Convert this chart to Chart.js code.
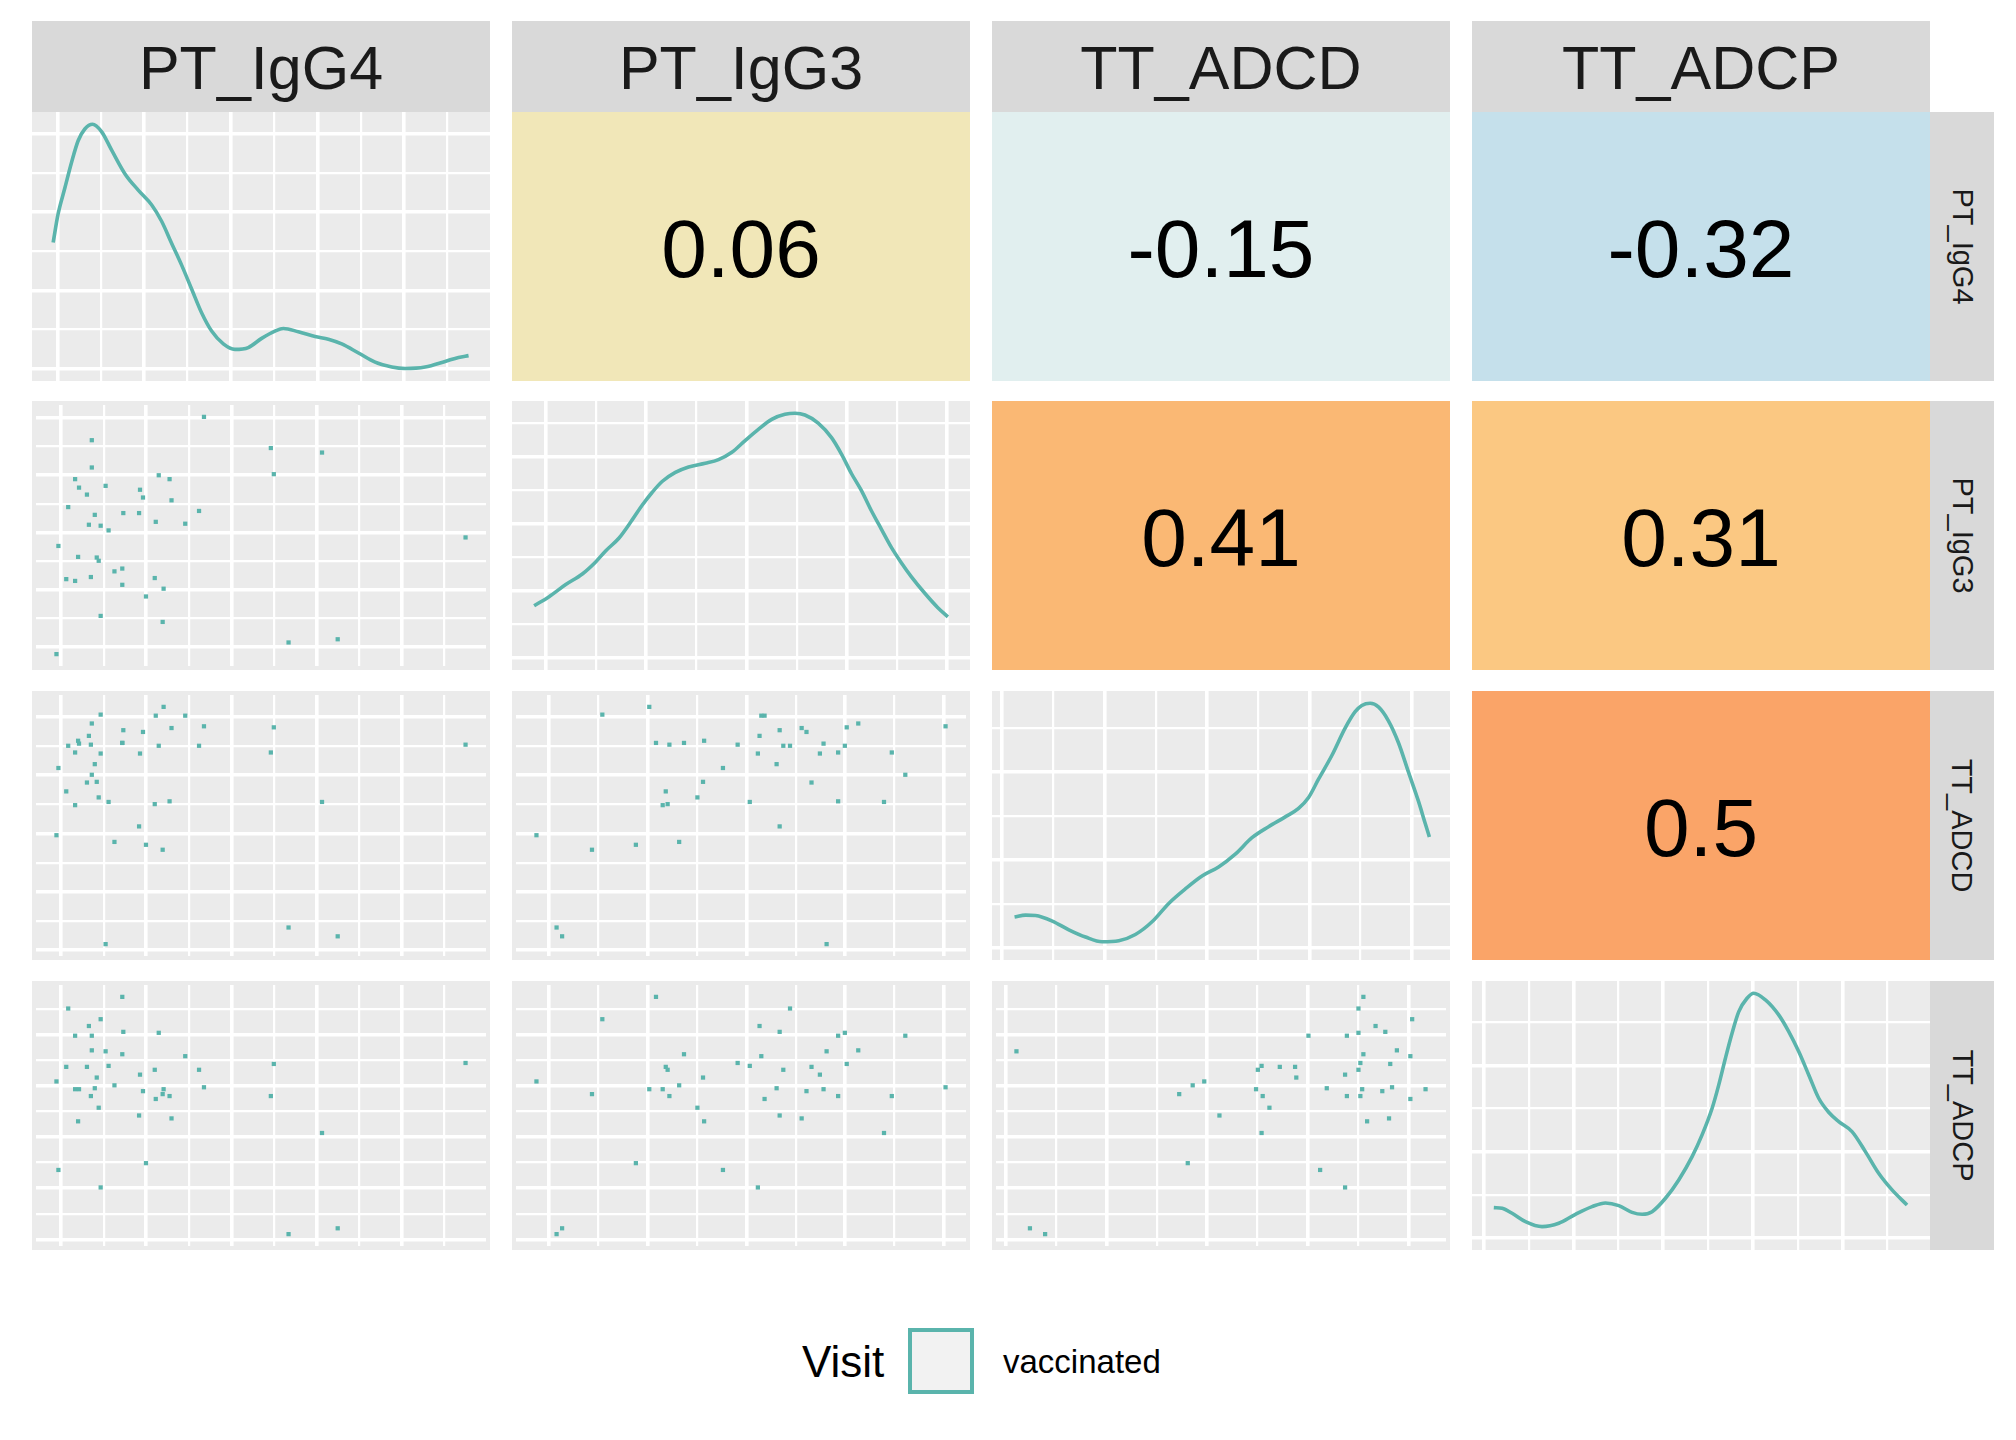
<!DOCTYPE html>
<html>
<head>
<meta charset="utf-8">
<script src="https://cdn.jsdelivr.net/npm/chart.js@4.4.0/dist/chart.umd.min.js"></script>
<style>
  body { margin: 0; background: #fff; width: 2016px; height: 1440px; position: relative; overflow: hidden;
         font-family: 'Liberation Sans', Arial, sans-serif; }
  .abs { position: absolute; }
  .strip-top { background: #D9D9D9; color: #1A1A1A; font-size: 61px; display: flex; align-items: center;
               justify-content: center; padding-top: 3px; box-sizing: border-box; }
  .strip-right { background: #D9D9D9; color: #1A1A1A; font-size: 29px; display: flex; align-items: center;
                 justify-content: center; }
  .strip-right span { display: inline-block; transform: rotate(90deg); white-space: nowrap; }
  .corr { display: flex; align-items: center; justify-content: center; font-size: 82px; color: #000;
          padding-top: 5px; box-sizing: border-box; }
  canvas { background: #EBEBEB; }
</style>
</head>
<body>
<script>
var varNames = ['PT_IgG4', 'PT_IgG3', 'TT_ADCD', 'TT_ADCP'];

// one value per sample, same order in every array
var PT_IgG4 = [-0.054, -0.031, 0.061, 0.084, 0.165, 0.165, 0.200, 0.211, 0.304, 0.327, 0.350, 0.361, 0.361, 0.396, 0.419,
               0.442, 0.465, 0.465, 0.523, 0.558, 0.627, 0.719, 0.719, 0.731, 0.916, 0.927, 0.962, 0.997, 1.100, 1.112,
               1.147, 1.193, 1.204, 1.274, 1.297, 1.458, 1.620, 1.678, 2.463, 2.498, 2.671, 3.064, 3.248, 4.749];
var PT_IgG3 = [-0.129, 1.762, 1.182, 2.442, 2.930, 1.151, 1.571, 2.782, 2.660, 2.133, 1.219, 3.611, 3.134, 2.306, 1.560,
               1.503, 2.116, 0.539, 2.813, 2.034, 1.318, 1.367, 1.083, 2.337, 2.337, 2.745, 2.609, 0.879, 1.201, 2.184,
               2.998, 0.434, 1.015, 2.930, 2.560, 2.151, 2.374, 4.019, 3.474, 3.017, 0.075, 3.395, 0.131, 1.911];
var TT_ADCD = [1.970, 3.122, 2.721, 3.503, 3.388, 2.485, 3.589, 3.540, 2.873, 3.673, 3.522, 3.006, 3.885, 3.188, 2.885,
               2.618, 3.370, 4.037, 0.103, 2.540, 1.855, 3.552, 3.552, 3.770, 2.121, 3.370, 3.740, 1.806, 2.503, 4.019,
               3.503, 1.721, 4.170, 2.551, 3.807, 4.019, 3.503, 3.837, 3.388, 3.819, 0.388, 2.540, 0.237, 3.522];
var TT_ADCP = [3.087, 1.356, 3.372, 4.513, 3.981, 2.935, 2.307, 2.935, 3.372, 4.171, 2.801, 3.981, 3.695, 2.954, 3.163,
               2.573, 1.014, 4.304, 3.676, 3.391, 3.011, 3.619, 4.741, 4.057, 2.421, 3.220, 2.897, 1.489, 3.315, 2.744,
               4.038, 2.839, 2.935, 2.801, 2.364, 3.581, 3.315, 2.973, 2.801, 3.429, 0.101, 2.079, 0.215, 3.448];

// density curves on the diagonal
var densIgG4X = [-0.050, 0.007, 0.084, 0.161, 0.238, 0.315, 0.404, 0.508, 0.623, 0.777, 0.931, 1.085, 1.201, 1.316,
                 1.432, 1.547, 1.662, 1.778, 1.913, 2.047, 2.201, 2.355, 2.509, 2.605, 2.779, 2.971, 3.125, 3.279,
                 3.472, 3.664, 3.856, 4.010, 4.241, 4.472, 4.626, 4.742];
var densIgG4Y = [1.612, 1.976, 2.303, 2.630, 2.910, 3.060, 3.121, 3.027, 2.794, 2.490, 2.280, 2.093, 1.883, 1.603,
                 1.323, 1.018, 0.715, 0.481, 0.317, 0.247, 0.271, 0.388, 0.481, 0.514, 0.472, 0.411, 0.378, 0.317,
                 0.201, 0.084, 0.023, 0.004, 0.023, 0.094, 0.145, 0.168];
var densIgG3X = [-0.116, 0.033, 0.199, 0.364, 0.497, 0.596, 0.728, 0.861, 0.960, 1.059, 1.159, 1.291, 1.423, 1.589,
                 1.721, 1.854, 1.986, 2.118, 2.251, 2.383, 2.483, 2.582, 2.714, 2.847, 2.946, 3.045, 3.145, 3.244,
                 3.343, 3.443, 3.542, 3.641, 3.774, 3.906, 4.006];
var densIgG3Y = [0.776, 0.913, 1.093, 1.251, 1.431, 1.595, 1.785, 2.059, 2.277, 2.468, 2.632, 2.768, 2.850, 2.904,
                 2.959, 3.068, 3.243, 3.411, 3.560, 3.635, 3.652, 3.625, 3.504, 3.287, 3.041, 2.752, 2.495, 2.195,
                 1.922, 1.649, 1.420, 1.212, 0.967, 0.748, 0.612];
var densADCDX = [0.120, 0.227, 0.325, 0.488, 0.650, 0.813, 0.975, 1.138, 1.300, 1.463, 1.626, 1.788, 1.951, 2.113,
                 2.276, 2.439, 2.601, 2.764, 2.894, 2.992, 3.089, 3.219, 3.349, 3.447, 3.512, 3.593, 3.674, 3.772,
                 3.870, 3.967, 4.065, 4.130, 4.172];
var densADCDY = [0.350, 0.372, 0.367, 0.304, 0.205, 0.122, 0.068, 0.080, 0.151, 0.296, 0.505, 0.670, 0.817, 0.920,
                 1.066, 1.253, 1.378, 1.490, 1.586, 1.711, 1.919, 2.189, 2.501, 2.688, 2.759, 2.784, 2.742, 2.584,
                 2.334, 2.002, 1.669, 1.420, 1.262];
var densADCPX = [0.112, 0.205, 0.316, 0.465, 0.650, 0.836, 1.022, 1.207, 1.356, 1.505, 1.653, 1.765, 1.876, 2.025,
                 2.173, 2.322, 2.433, 2.545, 2.619, 2.693, 2.767, 2.842, 2.934, 3.009, 3.139, 3.287, 3.399, 3.510,
                 3.622, 3.733, 3.844, 3.956, 4.104, 4.253, 4.401, 4.550, 4.717];
var densADCPY = [0.350, 0.342, 0.284, 0.187, 0.129, 0.168, 0.272, 0.361, 0.404, 0.373, 0.295, 0.272, 0.303, 0.458,
                 0.671, 0.941, 1.193, 1.502, 1.773, 2.082, 2.372, 2.623, 2.778, 2.836, 2.759, 2.585, 2.391, 2.159,
                 1.888, 1.618, 1.456, 1.347, 1.231, 0.999, 0.748, 0.555, 0.380];

// upper triangle: (1,2) (1,3) (1,4) (2,3) (2,4) (3,4)
var corrLabels = ['0.06', '-0.15', '-0.32', '0.41', '0.31', '0.5'];
var corrColors = ['#F1E7B8', '#E1EFEF', '#C5E0EB', '#FAB874', '#FBC882', '#FAA468'];

var legendTitle = 'Visit';
var legendLabel = 'vaccinated';

var vars = [PT_IgG4, PT_IgG3, TT_ADCD, TT_ADCP];
var densX = [densIgG4X, densIgG3X, densADCDX, densADCPX];
var densY = [densIgG4Y, densIgG3Y, densADCDY, densADCPY];

var teal = '#5AB4AC';
var colLeft = [32, 512, 992, 1472];
var rowTop = [112, 401, 691, 981];
var panelW = 458, panelH = 269;

function box(cls, left, top, w, h) {
  var d = document.createElement('div');
  d.className = 'abs ' + cls;
  d.style.left = left + 'px'; d.style.top = top + 'px';
  d.style.width = w + 'px'; d.style.height = h + 'px';
  document.body.appendChild(d);
  return d;
}

// data range plus 5% on each side, like ggplot
function limits(vals, withZero) {
  var lo = Math.min.apply(null, vals), hi = Math.max.apply(null, vals);
  if (withZero) lo = Math.min(0, lo);
  var pad = (hi - lo) * 0.05;
  return [lo - pad, hi + pad];
}

function gridAxis(lim) {
  return {
    type: 'linear',
    min: lim[0],
    max: lim[1],
    ticks: { display: false },
    border: { display: false },
    grid: {
      color: '#FFFFFF',
      drawTicks: false,
      lineWidth: function (ctx) {
        return ctx.tick && Number.isInteger(ctx.tick.value) ? 3.6 : 2.2;
      }
    },
    afterBuildTicks: function (scale) {
      var t = [];
      for (var v = Math.ceil(lim[0] * 2) / 2; v <= lim[1]; v += 0.5) t.push({ value: v });
      scale.ticks = t;
    }
  };
}

function panel(i, j, datasets, yLim) {
  var c = document.createElement('canvas');
  c.width = panelW; c.height = panelH;
  c.style.position = 'absolute';
  c.style.left = colLeft[j] + 'px'; c.style.top = rowTop[i] + 'px';
  c.style.width = panelW + 'px'; c.style.height = panelH + 'px';
  document.body.appendChild(c);
  new Chart(c, {
    type: 'scatter',
    data: { datasets: datasets },
    options: {
      responsive: false,
      animation: false,
      layout: { padding: 0 },
      plugins: { legend: { display: false }, tooltip: { enabled: false } },
      scales: {
        x: gridAxis(limits(vars[j])),
        y: gridAxis(yLim)
      }
    }
  });
}

// strips
for (var k = 0; k < 4; k++) {
  box('strip-top', colLeft[k], 21, panelW, 91).textContent = varNames[k];
  var s = box('strip-right', 1930, rowTop[k], 64, panelH);
  var sp = document.createElement('span');
  sp.textContent = varNames[k];
  s.appendChild(sp);
}

var corrIndex = 0;
for (var i = 0; i < 4; i++) {
  for (var j = 0; j < 4; j++) {
    if (i < j) {
      var t = box('corr', colLeft[j], rowTop[i], panelW, panelH);
      t.style.background = corrColors[corrIndex];
      t.textContent = corrLabels[corrIndex];
      corrIndex++;
    } else if (i === j) {
      var pts = densX[i].map(function (x, n) { return { x: x, y: densY[i][n] }; });
      panel(i, j, [{
        data: pts,
        showLine: true,
        borderColor: teal,
        borderWidth: 3.6,
        pointRadius: 0,
        cubicInterpolationMode: 'monotone'
      }], limits(densY[i], true));
    } else {
      var xs = vars[j], ys = vars[i];
      var sc = xs.map(function (x, n) { return { x: x, y: ys[n] }; });
      panel(i, j, [{
        data: sc,
        pointStyle: 'rect',
        pointRadius: 3,
        backgroundColor: teal,
        borderWidth: 0
      }], limits(vars[i]));
    }
  }
}

// legend
var lt = box('', 802, 1330, 100, 64);
lt.style.fontSize = '44px'; lt.style.lineHeight = '64px'; lt.style.color = '#000';
lt.textContent = legendTitle;
var key = box('', 908, 1328, 66, 66);
key.style.background = '#F2F2F2'; key.style.border = '4px solid ' + teal; key.style.boxSizing = 'border-box';
var ll = box('', 1003, 1330, 200, 64);
ll.style.fontSize = '33px'; ll.style.lineHeight = '64px'; ll.style.color = '#000';
ll.textContent = legendLabel;
</script>
</body>
</html>
